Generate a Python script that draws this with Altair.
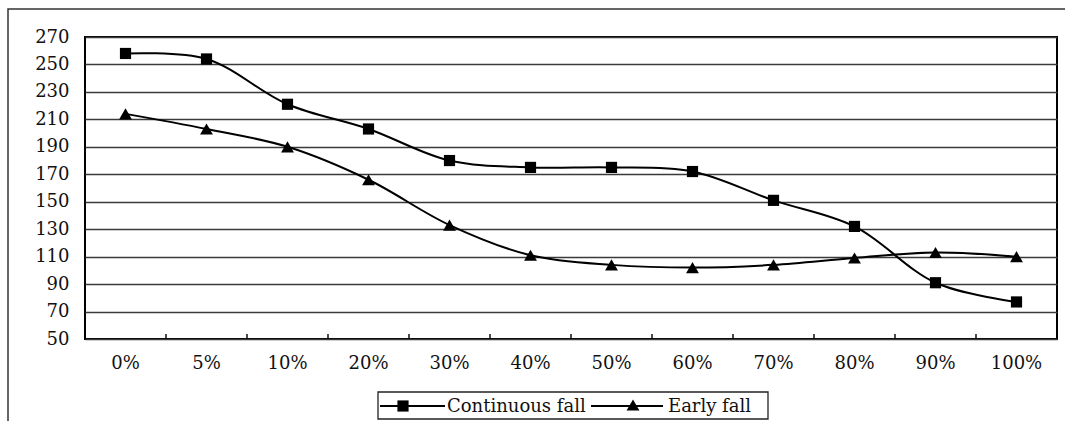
import altair as alt
import pandas as pd

# Loss level categories along the x axis
levels = ["0%", "5%", "10%", "20%", "30%", "40%", "50%", "60%", "70%", "80%", "90%", "100%"]

# Series values
continuous_fall = [258, 254, 221, 203, 180, 175, 175, 172, 151, 132, 91, 77]
early_fall = [214, 203, 190, 166, 133, 111, 104, 102, 104, 109, 113, 110]

series_names = ["Continuous fall", "Early fall"]
series_shapes = ["square", "triangle-up"]
series_sizes = [125, 165]
y_ticks = list(range(50, 271, 20))

W, H = 972, 302
FONT = "DejaVu Serif"

rows = []
for name, values in zip(series_names, [continuous_fall, early_fall]):
    for lvl, v in zip(levels, values):
        rows.append({"level": lvl, "value": v, "series": name})
df = pd.DataFrame(rows)

x_enc = alt.X(
    "level:N",
    sort=levels,
    scale=alt.Scale(domain=levels, paddingInner=0, paddingOuter=0),
    axis=alt.Axis(
        title=None, labelAngle=0, ticks=False, domain=False,
        labelPadding=15, labelFont=FONT, labelFontSize=18, labelColor="#111",
    ),
)
y_enc = alt.Y(
    "value:Q",
    scale=alt.Scale(domain=[50, 270], nice=False, zero=False),
    axis=alt.Axis(
        title=None, values=y_ticks, ticks=False, domain=False,
        grid=True, gridColor="#3a3a3a", gridWidth=1.4, labelOverlap=False,
        labelPadding=16, labelFont=FONT, labelFontSize=18, labelColor="#111",
    ),
)

shape_scale = alt.Scale(domain=series_names, range=series_shapes)
size_scale = alt.Scale(domain=series_names, range=series_sizes)

lines = alt.Chart(df).mark_line(
    interpolate="catmull-rom", color="black", strokeWidth=2
).encode(x=x_enc, y=y_enc, detail="series:N")

points = alt.Chart(df).mark_point(
    filled=True, color="black", opacity=1
).encode(
    x=x_enc,
    y=y_enc,
    shape=alt.Shape("series:N", scale=shape_scale, legend=None),
    size=alt.Size("series:N", scale=size_scale, legend=None),
)

# small inward ticks at category boundaries on the x axis
tick_df = pd.DataFrame({"level": levels[1:]})
x_ticks = alt.Chart(tick_df).mark_rule(color="black", strokeWidth=1.4).encode(
    x=alt.X("level:N", sort=levels, bandPosition=0),
    y=alt.value(H - 5),
    y2=alt.value(H),
)

one = pd.DataFrame({"k": [0]})

# outer chart frame (its right and bottom sides run past the page edge)
frame = alt.Chart(one).mark_rect(
    fill=None, stroke="#333", strokeWidth=1.5
).encode(
    x=alt.value(-77), x2=alt.value(995), y=alt.value(-28), y2=alt.value(400)
)

# legend box and entries
legend_box = alt.Chart(one).mark_rect(
    fill="white", stroke="#222", strokeWidth=1.3
).encode(
    x=alt.value(293), x2=alt.value(683), y=alt.value(355), y2=alt.value(382)
)
ly = 369
leg_line1 = alt.Chart(one).mark_rule(color="black", strokeWidth=2).encode(
    x=alt.value(295), x2=alt.value(360), y=alt.value(ly)
)
leg_pt1 = alt.Chart(one).mark_point(
    filled=True, color="black", opacity=1, size=series_sizes[0], shape=series_shapes[0]
).encode(x=alt.value(318), y=alt.value(ly))
leg_txt1 = alt.Chart(one).mark_text(
    align="left", baseline="middle", font=FONT, fontSize=18, color="#111"
).encode(x=alt.value(362), y=alt.value(ly + 1), text=alt.value(series_names[0]))
leg_line2 = alt.Chart(one).mark_rule(color="black", strokeWidth=2).encode(
    x=alt.value(506), x2=alt.value(578), y=alt.value(ly)
)
leg_pt2 = alt.Chart(one).mark_point(
    filled=True, color="black", opacity=1, size=series_sizes[1], shape=series_shapes[1]
).encode(x=alt.value(548), y=alt.value(ly - 1))
leg_txt2 = alt.Chart(one).mark_text(
    align="left", baseline="middle", font=FONT, fontSize=18, color="#111"
).encode(x=alt.value(583), y=alt.value(ly + 1), text=alt.value(series_names[1]))

chart = alt.layer(
    frame, lines, points, x_ticks,
    legend_box, leg_line1, leg_pt1, leg_txt1, leg_line2, leg_pt2, leg_txt2,
).properties(
    width=W, height=H,
    autosize=alt.AutoSizeParams(type="none"),
    padding={"left": 85, "top": 37, "right": 8, "bottom": 82},
    background="white",
).configure_view(
    stroke="black", strokeWidth=2
)

chart.save("out.html", embed_options={"renderer": "svg", "actions": False})
